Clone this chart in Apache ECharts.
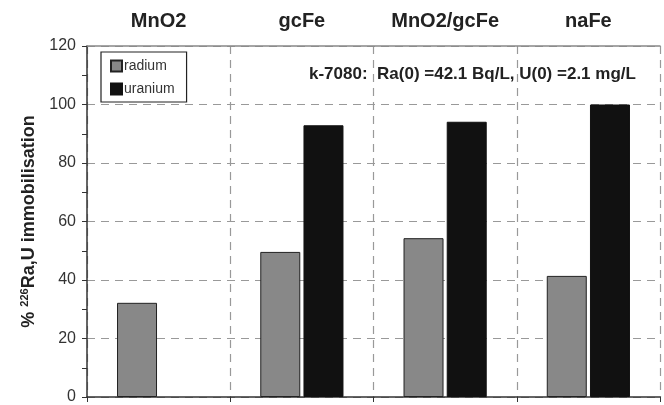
<!DOCTYPE html>
<html><head><meta charset="utf-8">
<script src="https://cdn.jsdelivr.net/npm/echarts@6/dist/echarts.min.js"></script>
<style>html,body{margin:0;padding:0;background:#fff}#c{width:664px;height:405px}</style>
</head><body><div id="c"></div>
<script>
var categories = ['MnO2', 'gcFe', 'MnO2/gcFe', 'naFe'];
var radium = [32.2, 49.6, 54.3, 41.4];
var uranium = ['-', 92.9, 94.1, 100];
var yTicks = [0, 20, 40, 60, 80, 100, 120];
var annotation = 'k-7080:  Ra(0) =42.1 Bq/L, U(0) =2.1 mg/L';

var chart = echarts.init(document.getElementById('c'), null, {renderer: 'canvas'});
var F = 'Liberation Sans, Arial, sans-serif';
chart.setOption({
  animation: false,
  backgroundColor: '#fff',
  textStyle: {fontFamily: F},
  grid: {left: 87, right: 4, top: 46, bottom: 6, containLabel: false},
  title: {
    text: annotation, left: 304, top: 61,
    textStyle: {fontFamily: F, fontSize: 17, fontWeight: 'bold', color: '#222'}
  },
  legend: {
    data: ['radium', 'uranium'], orient: 'vertical', left: 101, top: 52,
    width: 85, padding: [7, 12, 6, 9], itemGap: 9,
    borderColor: '#222', borderWidth: 1.2, backgroundColor: '#fff',
    itemWidth: 11, itemHeight: 11, icon: 'rect',
    textStyle: {fontFamily: F, fontSize: 14, color: '#333', padding: [0, 0, 0, -3]}
  },
  xAxis: [{
    type: 'category', data: categories, position: 'bottom',
    axisLine: {lineStyle: {color: '#333', width: 1.5}},
    axisTick: {show: true, inside: false, length: 5, lineStyle: {color: '#333'}},
    axisLabel: {show: false},
    splitLine: {show: true, lineStyle: {color: '#999', type: [8, 6], width: 1.2}}
  }, {
    type: 'category', data: categories, position: 'top',
    axisLine: {show: true, lineStyle: {color: '#888', width: 1.5}},
    axisTick: {show: false},
    axisLabel: {show: true, margin: 15, fontFamily: F, fontSize: 20, fontWeight: 'bold', color: '#222'},
    splitLine: {show: false}
  }],
  yAxis: {
    type: 'value', min: 0, max: 120, interval: 20,
    name: '{a|% }{s|226}{a|Ra,U immobilisation}', nameLocation: 'middle', nameGap: 46,
    nameTextStyle: {
      rich: {
        a: {fontFamily: F, fontSize: 18, fontWeight: 'bold', color: '#222'},
        s: {fontFamily: F, fontSize: 11, fontWeight: 'bold', color: '#222', verticalAlign: 'top', padding: [0, 0, 8, 0]}
      }
    },
    axisLine: {show: true, lineStyle: {color: '#333', width: 1.5}},
    axisTick: {show: true, length: 5, lineStyle: {color: '#333'}},
    minorTick: {show: true, splitNumber: 2, length: 5, lineStyle: {color: '#333'}},
    axisLabel: {
      margin: 11, fontFamily: F, fontSize: 16, color: '#333',
      formatter: function (v) { return yTicks.indexOf(v) >= 0 ? String(v) : ''; }
    },
    splitLine: {show: true, lineStyle: {color: '#999', type: [8, 6], width: 1.2}}
  },
  series: [{
    name: 'radium', type: 'bar', data: radium, barWidth: 40, barGap: '8%',
    itemStyle: {color: '#888', borderColor: '#222', borderWidth: 1}
  }, {
    name: 'uranium', type: 'bar', data: uranium, barWidth: 40,
    itemStyle: {color: '#111', borderColor: '#111', borderWidth: 1}
  }]
});
</script></body></html>
